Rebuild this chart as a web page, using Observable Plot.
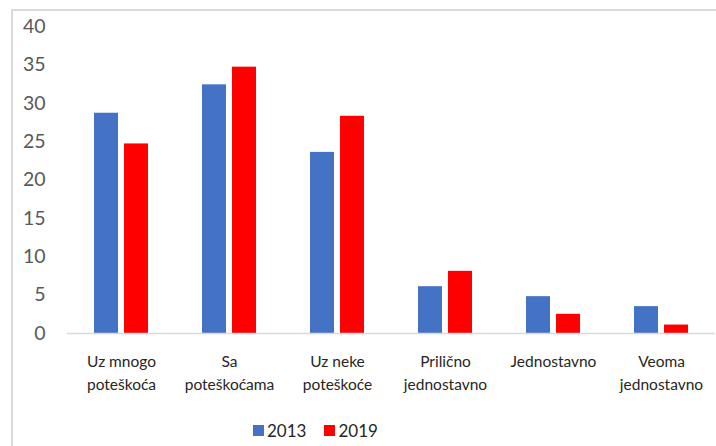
<!DOCTYPE html>
<html>
<head>
<meta charset="utf-8">
<script src="https://cdn.jsdelivr.net/npm/d3@7"></script>
<script src="https://cdn.jsdelivr.net/npm/@observablehq/plot@0.6"></script>
<style>
  html, body { margin: 0; padding: 0; background: #fff; }
  #wrap { position: relative; width: 716px; height: 446px; overflow: hidden; font-family: Lato, "Open Sans", sans-serif; }
  #frame { position: absolute; left: 11px; top: 9px; width: 720px; height: 460px; border-left: 2px solid #d9d9d9; border-top: 2px solid #d9d9d9; box-sizing: border-box; }
  #chart { position: absolute; left: 0; top: 0; }
  #legend { position: absolute; top: 420px; left: 253px; display: flex; align-items: center; font-size: 17px; color: #262626; }
  #legend .sw { width: 11px; height: 11px; display: inline-block; margin-right: 3px; }
  #legend .item { display: flex; align-items: center; margin-right: 18px; }
</style>
</head>
<body>
<div id="wrap">
  <div id="frame"></div>
  <div id="chart"></div>
  <div id="legend"></div>
</div>
<script>
const categories = ["Uz mnogo\npoteškoća", "Sa\npoteškoćama", "Uz neke\npoteškoće", "Prilično\njednostavno", "Jednostavno", "Veoma\njednostavno"];
const series = ["2013", "2019"];
const values2013 = [28.7, 32.4, 23.6, 6.1, 4.8, 3.5];
const values2019 = [24.7, 34.7, 28.3, 8.1, 2.5, 1.1];
const colors = ["#4472C4", "#FF0000"];
const yTicks = [0, 5, 10, 15, 20, 25, 30, 35, 40];

const data = [];
categories.forEach((c, i) => {
  data.push({category: c, year: series[0], value: values2013[i]});
  data.push({category: c, year: series[1], value: values2019[i]});
});

const chart = Plot.plot({
  width: 716,
  height: 400,
  marginLeft: 65,
  marginRight: 0,
  marginTop: 26,
  marginBottom: 67,
  style: {fontFamily: "Lato, 'Open Sans', sans-serif", background: "transparent", overflow: "visible"},
  fx: {domain: categories, padding: 0, label: null},
  x: {domain: series, paddingInner: 0.21, paddingOuter: 0.89, axis: null},
  y: {domain: [0, 40], label: null},
  color: {domain: series, range: colors},
  marks: [
    Plot.barY(data, {fx: "category", x: "year", y: "value", fill: "year"}),
    Plot.ruleY([0], {stroke: "#d9d9d9", strokeWidth: 1.5}),
    Plot.axisY({ticks: yTicks, tickSize: 0, tickPadding: 22, fontSize: 19.5, fill: "#595959", label: null}),
    Plot.axisFx({anchor: "bottom", tickSize: 0, tickPadding: 18, fontSize: 15.5, lineHeight: 1.45, fill: "#262626", label: null})
  ]
});
document.getElementById("chart").appendChild(chart);

const legend = document.getElementById("legend");
series.forEach((s, i) => {
  const item = document.createElement("span");
  item.className = "item";
  const sw = document.createElement("span");
  sw.className = "sw";
  sw.style.background = colors[i];
  item.appendChild(sw);
  item.appendChild(document.createTextNode(s));
  legend.appendChild(item);
});
</script>
</body>
</html>
